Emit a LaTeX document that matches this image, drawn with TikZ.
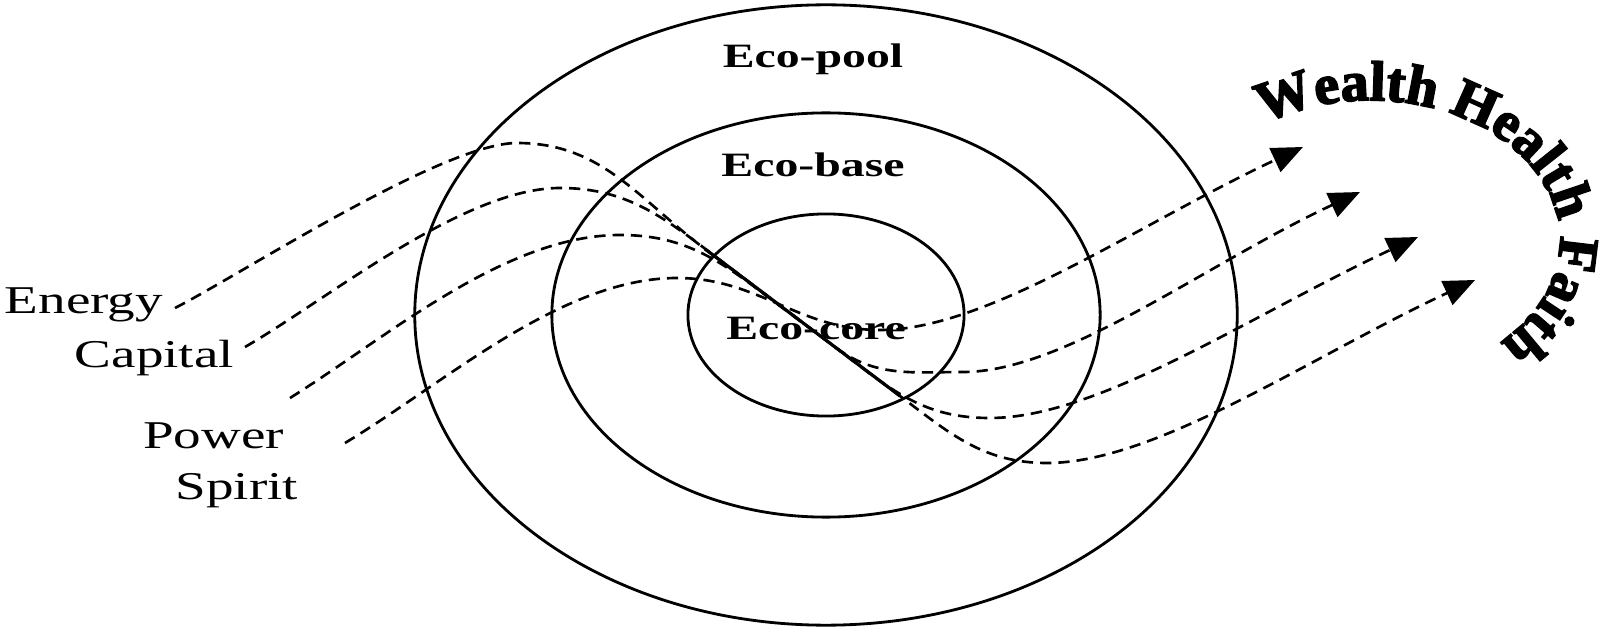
\documentclass[tikz,border=0pt]{standalone}
\usepackage{fontspec}
\setmainfont{Liberation Serif}
\newfontfamily\heavyfont{Liberation Serif}[BoldFeatures={FakeBold=3}]
\usetikzlibrary{arrows.meta,calc,decorations.text}

\newcommand\arcfont{\fontsize{16}{18}\heavyfont\bfseries}

\tikzset{
  ring/.style={line width=0.8pt},
  flow/.style={line width=0.75pt, dash pattern=on 3.2pt off 2pt,
    -{Triangle[length=3.1mm,width=2.6mm]}},
  ecolabel/.style={font=\fontsize{9.7}{12}\selectfont\bfseries, xscale=1.4,
    anchor=base, inner sep=0pt},
  sidelabel/.style={font=\fontsize{11.2}{13}\selectfont, xscale=1.4,
    anchor=base east, inner sep=0pt},
}

\begin{document}
\begin{tikzpicture}[x=0.01cm, y=0.01cm]
  \useasboundingbox (0,0) rectangle (1606,627);
  \coordinate (O) at (826,312);

  % the three rings
  \draw[ring] (O) ellipse[x radius=4.11cm, y radius=3.10cm];
  \draw[ring] (O) ellipse[x radius=2.74cm, y radius=2.02cm];
  \draw[ring] (O) ellipse[x radius=1.38cm, y radius=1.01cm];

  \node[ecolabel] (pool) at (813,559) {Eco-pool};
  \node[ecolabel] (base) at (813,450) {Eco-base};
  \node[ecolabel] (core) at (816,287) {Eco-core};

  \node[sidelabel] (energy)  at (164,313) {Energy};
  \node[sidelabel] (capital) at (235,259) {Capital};
  \node[sidelabel] (power)   at (285,179) {Power};
  \node[sidelabel] (spirit)  at (299,127) {Spirit};

  \coordinate (src1) at ($(energy.base east)+(11,6)$);
  \coordinate (src2) at ($(capital.base east)+(10,21)$);
  \coordinate (src3) at ($(power.base east)+(5,50)$);
  \coordinate (src4) at ($(spirit.base east)+(46,57)$);

  \coordinate (top1) at (517,484);
  \coordinate (top2) at (560,439);
  \coordinate (top3) at (620,392);
  \coordinate (top4) at (677,349);

  \coordinate (j1) at (705,378);  \coordinate (d1) at (900,231);
  \coordinate (j2) at (720,367);  \coordinate (d2) at (865,257);
  \coordinate (j3) at (760,336);  \coordinate (d3) at (835,280);

  \coordinate (low1) at (1047,164);
  \coordinate (low2) at (990,209);
  \coordinate (low3) at (963,255);
  \coordinate (low4) at (880,297);

  \coordinate (tip1) at (1475,347);
  \coordinate (tip2) at (1418,390);
  \coordinate (tip3) at (1360,435);
  \coordinate (tip4) at (1303,480);

  % flows through the core
  \draw[flow] (src1) to[out=27,in=180,looseness=0.5] (top1) to[out=0,in=143] (j1)
    -- (d1) to[out=-37,in=180] (low1) to[out=0,in=205,out looseness=0.6] (tip1);
  \draw[flow] (src2) to[out=30,in=180,looseness=0.7] (top2) to[out=0,in=143] (j2)
    -- (d2) to[out=-37,in=180] (low2) to[out=0,in=205,out looseness=0.6] (tip2);
  \draw[flow] (src3) to[out=32,in=180,looseness=0.8] (top3) to[out=0,in=143] (j3)
    -- (d3) to[out=-37,in=180] (low3) to[out=0,in=205,out looseness=0.6] (tip3);
  \draw[flow] (src4) to[out=31,in=180,looseness=0.8] (top4) to[out=0,in=180] (low4)
    to[out=0,in=205,out looseness=0.6] (tip4);
  \draw[line width=0.9pt] (j1) -- (d1);

  % arched words
  \path[decorate, decoration={text along path, text align=center,
      text={|\arcfont|Wealth Health Faith}}]
    (1258,500) arc[start angle=126, end angle=-49, x radius=1.9cm, y radius=1.4cm];
\end{tikzpicture}
\end{document}
